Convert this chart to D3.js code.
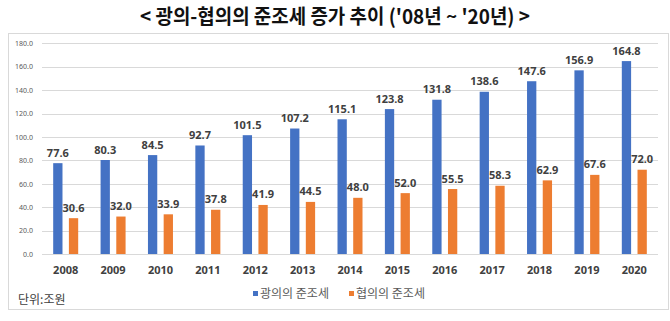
<!DOCTYPE html>
<html><head><meta charset="utf-8">
<script src="https://cdn.jsdelivr.net/npm/d3@7"></script>
<style>html,body{margin:0;padding:0;background:#fff;}svg{display:block;}</style>
</head><body>
<svg id="chart" width="670" height="321"></svg>
<script>
const title = "< 광의-협의의 준조세 증가 추이 ('08년 ~ '20년) >";
const years = ["2008","2009","2010","2011","2012","2013","2014","2015","2016","2017","2018","2019","2020"];
const seriesNames = ["광의의 준조세", "협의의 준조세"];
const broadValues = [77.6, 80.3, 84.5, 92.7, 101.5, 107.2, 115.1, 123.8, 131.8, 138.6, 147.6, 156.9, 164.8];
const narrowValues = [30.6, 32.0, 33.9, 37.8, 41.9, 44.5, 48.0, 52.0, 55.5, 58.3, 62.9, 67.6, 72.0];
const yTicks = [0, 20, 40, 60, 80, 100, 120, 140, 160, 180];
const unitLabel = "단위:조원";
const colors = ["#4472C4", "#ED7D31"];

const svg = d3.select("#chart");
const font = "'Noto Sans', 'Noto Sans CJK KR', sans-serif";

// title
svg.append("text").attr("x", 335).attr("y", 24).attr("text-anchor", "middle")
  .attr("font-family", "'Noto Sans CJK KR', sans-serif").attr("font-weight", "bold")
  .attr("font-size", 20).attr("fill", "#111")
  .attr("textLength", 390).attr("lengthAdjust", "spacingAndGlyphs")
  .text(title);

// frame
svg.append("rect").attr("x", 8.5).attr("y", 33.5).attr("width", 660).attr("height", 276)
  .attr("fill", "none").attr("stroke", "#d9d9d9").attr("stroke-width", 1);

const x0 = d3.scaleBand().domain(years).range([42, 658]).paddingInner(0).paddingOuter(0);
const bw = x0.bandwidth();
const x1 = d3.scaleBand().domain([0, 1]).range([bw/2 - 12.5, bw/2 + 12.5]).paddingInner(0.408).paddingOuter(0);
const y = d3.scaleLinear().domain([0, 180]).range([254, 43.3]);

// gridlines
svg.append("g").selectAll("line").data(yTicks).join("line")
  .attr("x1", 42).attr("x2", 658)
  .attr("y1", d => Math.round(y(d)) + 0.5).attr("y2", d => Math.round(y(d)) + 0.5)
  .attr("stroke", "#d9d9d9").attr("stroke-width", 1);

// y axis labels
const yAxis = d3.axisLeft(y).tickValues(yTicks).tickFormat(d3.format(".1f")).tickSize(0).tickPadding(0);
const gy = svg.append("g").attr("transform", "translate(33,0)").call(yAxis);
gy.select(".domain").remove();
gy.selectAll("text").attr("font-family", font).attr("font-size", 7).attr("fill", "#595959");

// x axis labels
const xAxis = d3.axisBottom(x0).tickSize(0).tickPadding(0);
const gx = svg.append("g").attr("transform", "translate(0,266)").call(xAxis);
gx.select(".domain").remove();
gx.selectAll("text").attr("font-family", font).attr("font-size", 11).attr("font-weight", "bold").attr("fill", "#404040");

// bars
const data = years.map((yr, i) => ({year: yr, vals: [broadValues[i], narrowValues[i]]}));
const groups = svg.append("g").selectAll("g").data(data).join("g")
  .attr("transform", d => `translate(${x0(d.year)},0)`);
groups.selectAll("rect").data(d => d.vals.map((v, k) => ({v, k}))).join("rect")
  .attr("x", d => x1(d.k)).attr("width", x1.bandwidth())
  .attr("y", d => y(d.v)).attr("height", d => y(0) - y(d.v))
  .attr("fill", d => colors[d.k]);
groups.selectAll("text").data(d => d.vals.map((v, k) => ({v, k}))).join("text")
  .attr("x", d => x1(d.k) + x1.bandwidth()/2).attr("y", d => y(d.v) - 6.5)
  .attr("text-anchor", "middle")
  .attr("font-family", font).attr("font-size", 11).attr("font-weight", "bold").attr("fill", "#404040")
  .text(d => d3.format(".1f")(d.v));

// legend
const legX = [253, 349];
const leg = svg.append("g");
seriesNames.forEach((n, i) => {
  leg.append("rect").attr("x", legX[i]).attr("y", 291).attr("width", 5).attr("height", 5).attr("fill", colors[i]);
  leg.append("text").attr("x", legX[i] + 7).attr("y", 298)
    .attr("font-family", "'Noto Sans CJK KR', sans-serif").attr("font-size", 12).attr("fill", "#595959")
    .text(n);
});

// unit label
svg.append("text").attr("x", 18).attr("y", 304)
  .attr("font-family", "'Noto Sans CJK KR', sans-serif").attr("font-size", 12).attr("fill", "#404040")
  .text(unitLabel);
</script>
</body></html>
